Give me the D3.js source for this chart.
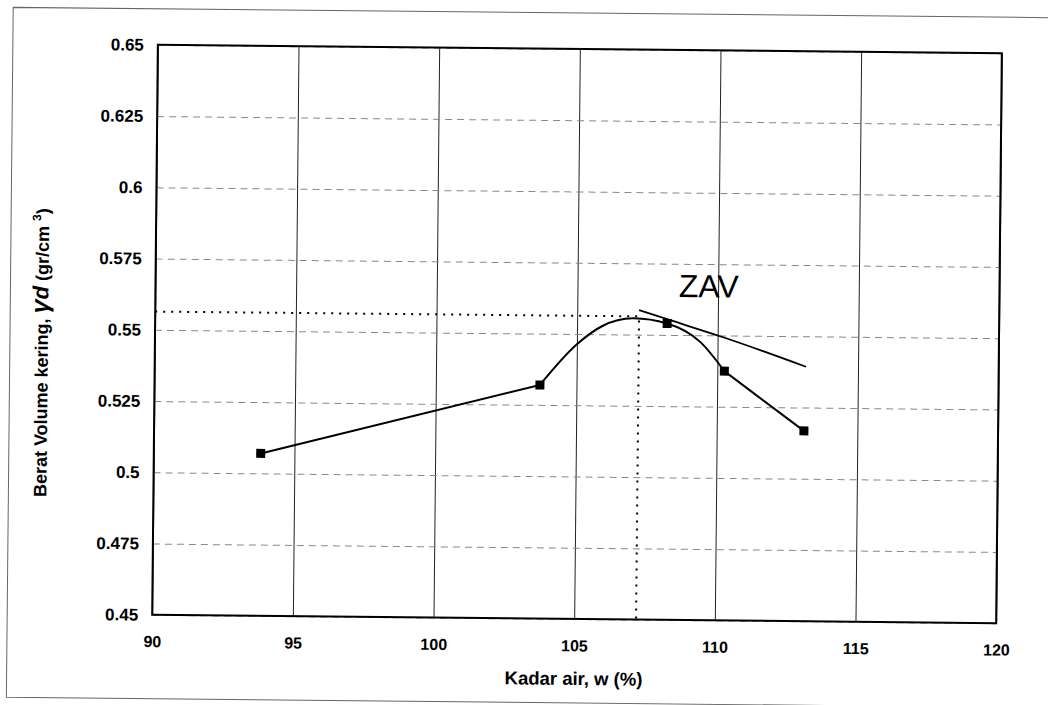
<!DOCTYPE html>
<html>
<head>
<meta charset="utf-8">
<script src="https://cdn.jsdelivr.net/npm/d3@7"></script>
<style>
  body { margin: 0; background: #fff; }
  text { font-family: "Liberation Sans", Arial, sans-serif; }
</style>
</head>
<body>
<div id="chart"></div>
<script>
// measured points: kadar air (%) vs berat volume kering (gr/cm3)
const waterContent = [93.8, 103.7, 108.2, 110.25, 113.1];
const dryDensity = [0.507, 0.532, 0.554, 0.5375, 0.5168];

// the smooth part of the curve (2nd to 4th point)
const curveW = [103.7, 105.0, 105.9, 107.0, 108.2, 109.4, 110.25];
const curveGd = [0.532, 0.5464, 0.5529, 0.5557, 0.554, 0.5475, 0.5375];

// zero air voids line
const zavW = [107.2, 108.2, 110.25, 113.15];
const zavGd = [0.5586, 0.5555, 0.5492, 0.5393];

// optimum water content and max dry density
const optW = 107.2;
const maxGd = 0.5564;

const xTicks = [90, 95, 100, 105, 110, 115, 120];
const yTicks = [0.45, 0.475, 0.5, 0.525, 0.55, 0.575, 0.6, 0.625, 0.65];
const yTickLabels = ['0.45', '0.475', '0.5', '0.525', '0.55', '0.575', '0.6', '0.625', '0.65'];

const W = 1048, H = 705;
const margin = { top: 49, right: 49, bottom: 86, left: 155 },
  width = W - margin.left - margin.right,
  height = H - margin.top - margin.bottom;

const svg = d3.select('#chart')
  .append('svg')
  .attr('width', W)
  .attr('height', H);

// the scanned page is a little tilted
const page = svg.append('g')
  .attr('transform', 'rotate(0.57 577 334)');

// outer frame of the sheet
page.append('path')
  .attr('d', 'M1070,13 H10 V703 H1070')
  .attr('fill', 'none')
  .attr('stroke', '#666')
  .attr('stroke-width', 1);

const group = page.append('g')
  .attr('transform', `translate(${margin.left} ${margin.top})`);

const x = d3.scaleLinear().domain([90, 120]).range([0, width]);
const y = d3.scaleLinear().domain([0.45, 0.65]).range([height, 0]);

// x axis with vertical grid
const xAxis = group.append('g')
  .attr('transform', `translate(0 ${height})`)
  .call(d3.axisBottom(x).tickValues(xTicks).tickSize(-height).tickPadding(21));
xAxis.select('.domain').remove();
xAxis.selectAll('line').attr('stroke', '#222').attr('stroke-width', 1);
xAxis.selectAll('text')
  .attr('font-size', 16)
  .attr('font-weight', 'bold')
  .attr('fill', '#000')
  .style('font-family', '"Liberation Sans", Arial, sans-serif');

// y axis with dashed horizontal grid
const yAxis = group.append('g')
  .call(d3.axisLeft(y).tickValues(yTicks)
    .tickFormat((d, i) => yTickLabels[i])
    .tickSize(-width).tickPadding(14));
yAxis.select('.domain').remove();
yAxis.selectAll('line')
  .attr('stroke', '#888')
  .attr('stroke-width', 1)
  .attr('stroke-dasharray', '7,5');
yAxis.selectAll('text')
  .attr('font-size', 17)
  .attr('font-weight', 'bold')
  .attr('fill', '#000')
  .style('font-family', '"Liberation Sans", Arial, sans-serif');

// plot frame
group.append('rect')
  .attr('width', width)
  .attr('height', height)
  .attr('fill', 'none')
  .attr('stroke', '#000')
  .attr('stroke-width', 2);

// dotted lines to the optimum
group.append('path')
  .attr('d', d3.line()([[x(90), y(maxGd)], [x(optW), y(maxGd)], [x(optW), y(0.45)]]))
  .attr('fill', 'none')
  .attr('stroke', '#000')
  .attr('stroke-width', 2)
  .attr('stroke-dasharray', '2,6');

// compaction curve: straight, smooth, straight
const pts = waterContent.map((w, i) => [x(w), y(dryDensity[i])]);
const curvePts = curveW.map((w, i) => [x(w), y(curveGd[i])]);

group.append('path')
  .attr('d', d3.line()([pts[0], pts[1]]))
  .attr('fill', 'none')
  .attr('stroke', '#000')
  .attr('stroke-width', 2);

group.append('path')
  .attr('d', d3.line().curve(d3.curveMonotoneX)(curvePts))
  .attr('fill', 'none')
  .attr('stroke', '#000')
  .attr('stroke-width', 2);

group.append('path')
  .attr('d', d3.line()([pts[3], pts[4]]))
  .attr('fill', 'none')
  .attr('stroke', '#000')
  .attr('stroke-width', 2);

// ZAV line
group.append('path')
  .attr('d', d3.line().curve(d3.curveMonotoneX)(zavW.map((w, i) => [x(w), y(zavGd[i])])))
  .attr('fill', 'none')
  .attr('stroke', '#000')
  .attr('stroke-width', 1.8);

// square markers
const size = 9;
group.selectAll('rect.marker')
  .data(pts)
  .enter()
  .append('rect')
  .attr('class', 'marker')
  .attr('x', d => d[0] - size / 2)
  .attr('y', d => d[1] - size / 2)
  .attr('width', size)
  .attr('height', size)
  .attr('fill', '#000');

// ZAV label
group.append('text')
  .attr('x', x(108.6))
  .attr('y', y(0.5633))
  .attr('font-size', 32)
  .text('ZAV');

// axis titles
group.append('text')
  .attr('x', width / 2)
  .attr('y', height + 66)
  .attr('text-anchor', 'middle')
  .attr('font-size', 18.5)
  .attr('font-weight', 'bold')
  .text('Kadar air, w (%)');

const yTitle = group.append('text')
  .attr('transform', `translate(${42 - margin.left + 6} ${358 - margin.top}) rotate(-90)`)
  .attr('text-anchor', 'middle')
  .attr('font-size', 18)
  .attr('font-weight', 'bold');
yTitle.append('tspan').text('Berat Volume kering, ');
yTitle.append('tspan').attr('font-size', 25).attr('font-style', 'italic').text('γ');
yTitle.append('tspan').attr('font-size', 22).attr('font-style', 'italic').text('d');
yTitle.append('tspan').text(' (gr/cm ');
yTitle.append('tspan').attr('font-size', 12).attr('dy', -8).text('3');
yTitle.append('tspan').attr('dy', 8).text(')');
</script>
</body>
</html>
